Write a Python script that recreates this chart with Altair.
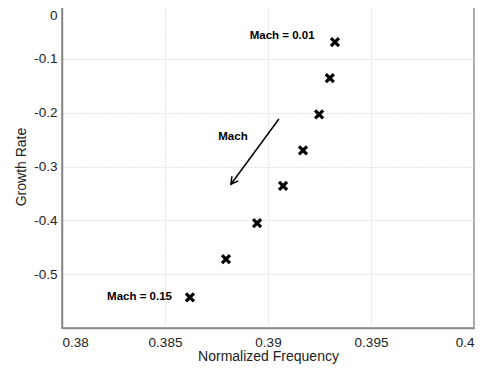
import altair as alt
import pandas as pd

freq = [0.39325, 0.3930, 0.39248, 0.3917, 0.39073, 0.38947, 0.38796, 0.38621]
growth = [-0.069, -0.136, -0.203, -0.270, -0.336, -0.405, -0.472, -0.543]

x_ticks = [0.38, 0.385, 0.39, 0.395, 0.4]
y_ticks = [0, -0.1, -0.2, -0.3, -0.4, -0.5]

labels = ["Mach = 0.01", "Mach = 0.15"]
label_x = [0.39226, 0.38534]
label_y = [-0.0576, -0.5425]

arrow_label = "Mach"
arrow_label_x = 0.38830
arrow_label_y = -0.245
arrow_start = (0.39053, -0.2118)
arrow_end = (0.38820, -0.3330)

pts = pd.DataFrame({"f": freq, "g": growth})
lab = pd.DataFrame({"f": label_x, "g": label_y, "t": labels})
alab = pd.DataFrame({"f": [arrow_label_x], "g": [arrow_label_y], "t": [arrow_label]})
arr = pd.DataFrame({"f": [arrow_start[0]], "g": [arrow_start[1]],
                    "f2": [arrow_end[0]], "g2": [arrow_end[1]]})
head = pd.DataFrame({"f": [arrow_end[0]], "g": [arrow_end[1]]})

xs = alt.Scale(domain=[0.38, 0.4], nice=False, zero=False)
ys = alt.Scale(domain=[-0.6, 0], nice=False, zero=False)

xax = alt.Axis(values=x_ticks, labelExpr="toString(datum.value)", title="Normalized Frequency",
               grid=True, ticks=False, labelPadding=7, titlePadding=1)
yax = alt.Axis(values=y_ticks, labelExpr="toString(datum.value)", title="Growth Rate",
               grid=True, ticks=False, labelPadding=5, titlePadding=5,
               labelOffset={"condition": {"test": "datum.value == 0", "value": 10}, "value": 0})

points = alt.Chart(pts).mark_point(
    shape="M -1 -1 L 1 1 M -1 1 L 1 -1", filled=False, stroke="black",
    strokeWidth=3.2, size=64, opacity=1
).encode(x=alt.X("f:Q", scale=xs, axis=xax), y=alt.Y("g:Q", scale=ys, axis=yax))

texts = alt.Chart(lab).mark_text(
    align="right", baseline="middle", fontWeight="bold", fontSize=11.5, color="black",
    font="Liberation Sans"
).encode(x=alt.X("f:Q", scale=xs), y=alt.Y("g:Q", scale=ys), text="t:N")

atext = alt.Chart(alab).mark_text(
    align="center", baseline="middle", fontWeight="bold", fontSize=11.5, color="black",
    font="Liberation Sans"
).encode(x=alt.X("f:Q", scale=xs), y=alt.Y("g:Q", scale=ys), text="t:N")

arrow = alt.Chart(arr).mark_rule(color="black", strokeWidth=1.5).encode(
    x=alt.X("f:Q", scale=xs), y=alt.Y("g:Q", scale=ys), x2="f2:Q", y2="g2:Q")

arrowhead = alt.Chart(head).mark_point(
    shape="M -0.55 -1 L 0 0 L 0.55 -1", filled=False, stroke="black",
    strokeWidth=1.5, size=200, angle=36, opacity=1
).encode(x=alt.X("f:Q", scale=xs), y=alt.Y("g:Q", scale=ys))

chart = alt.layer(points, texts, atext, arrow, arrowhead).properties(
    width=412, height=323,
    autosize=alt.AutoSizeParams(type="none"),
    padding={"left": 54, "top": -3, "right": 3, "bottom": 38},
    background="white",
).configure_view(
    stroke="#888888", strokeWidth=1.5
).configure_axis(
    domainColor="#888888", domainWidth=1.5,
    gridColor="#cccccc", gridDash=[1, 2], gridWidth=1,
    labelFont="Liberation Sans", labelFontSize=13.5, labelColor="#222222",
    titleFont="Liberation Sans", titleFontSize=14, titleFontWeight="normal", titleColor="#222222",
)

chart.save("out.html", embed_options={"renderer": "svg", "actions": False})
